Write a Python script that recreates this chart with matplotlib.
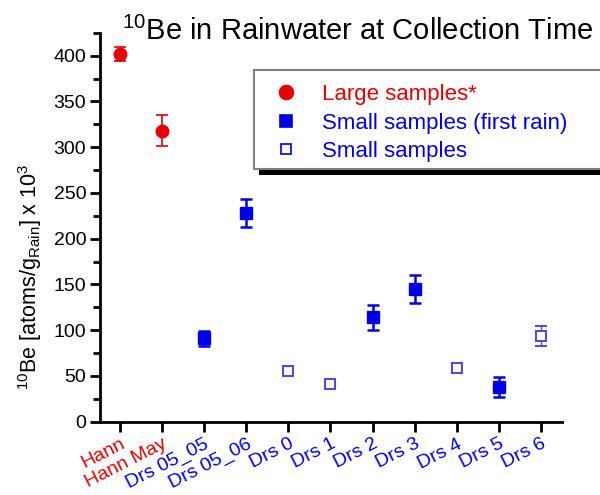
import matplotlib
matplotlib.use("Agg")
import matplotlib.pyplot as plt
from matplotlib.patches import Rectangle
from matplotlib.lines import Line2D
from matplotlib.ticker import MultipleLocator

plt.rcParams['font.family'] = ['Liberation Sans', 'DejaVu Sans']
plt.rcParams['mathtext.fontset'] = 'custom'
plt.rcParams['mathtext.rm'] = 'Liberation Sans'
plt.rcParams['mathtext.it'] = 'Liberation Sans'
plt.rcParams['mathtext.default'] = 'regular'

categories = ["Hann", "Hann May", "Drs 05_05", "Drs 05_06", "Drs 0", "Drs 1",
              "Drs 2", "Drs 3", "Drs 4", "Drs 5", "Drs 6"]
label_colors = ["red", "red"] + ["blue"] * 9

large_idx = [1, 2]
large_vals = [402, 318]
large_err = [8, 17]

first_idx = [3, 4, 7, 8, 10]
first_vals = [91, 228, 114, 145, 38]
first_err = [8, 15.5, 14, 15, 11]

small_idx = [5, 6, 9, 11]
small_vals = [55, 41, 59, 94]
small_err = [0, 0, 0, 11]

RED = '#e60000'
BLUE = '#0000e6'
LBLUE = '#5050cc'

fig = plt.figure(figsize=(6.0, 4.95), dpi=100)
ax = fig.add_axes([0.1667, 0.148, 0.77, 0.7856])

ax.errorbar(large_idx, large_vals, yerr=large_err, fmt='o', color=RED, ms=9,
            capsize=4, elinewidth=1.2, capthick=1.2, zorder=3)
ax.errorbar(first_idx, first_vals, yerr=first_err, fmt='s', color=BLUE, ms=8,
            capsize=4, elinewidth=1.8, capthick=1.8, zorder=3)
ax.errorbar(small_idx, small_vals, yerr=small_err, fmt='s', color=LBLUE, ms=7.5,
            mfc='white', mec=LBLUE, mew=1.5, capsize=4, elinewidth=1.0,
            capthick=1.0, zorder=3)

ax.set_xlim(0.525, 11.5)
ax.set_ylim(0, 425)
ax.set_xticks(range(1, len(categories) + 1))
ax.set_xticklabels(categories, rotation=27, ha='right', va='top',
                   rotation_mode='anchor', fontsize=14)
for t, c in zip(ax.get_xticklabels(), label_colors):
    t.set_color(RED if c == 'red' else BLUE)
ax.yaxis.set_major_locator(MultipleLocator(50))
ax.yaxis.set_minor_locator(MultipleLocator(25))
ax.tick_params(axis='y', which='major', length=7, width=2, labelsize=14,
               direction='out', pad=3)
ax.tick_params(axis='y', which='minor', length=5, width=2, direction='out')
ax.tick_params(axis='x', which='major', length=7, width=2, direction='out', pad=3)
for s in ['top', 'right']:
    ax.spines[s].set_visible(False)
for s in ['left', 'bottom']:
    ax.spines[s].set_linewidth(2)

fig.text(30 / 600, 1 - 277 / 495, '$^{10}$Be [atoms/g$_{Rain}$] x 10$^{3}$',
         fontsize=15.5, rotation=90, ha='center', va='center')

fig.text(122 / 600, 1 - 40 / 495, '$^{10}$Be in Rainwater at Collection Time',
         fontsize=21, va='baseline', ha='left')

# legend box (extends past right edge as in reference)
W, H = 600, 495
def fx(x): return x / W
def fy(y): return 1 - y / H
fig.patches.append(Rectangle((fx(259), fy(175)), fx(700 - 259), fy(169) - fy(175),
                             transform=fig.transFigure, facecolor='black',
                             edgecolor='none', zorder=5))
fig.patches.append(Rectangle((fx(254), fy(169)), fx(700 - 254), fy(70) - fy(169),
                             transform=fig.transFigure, facecolor='white',
                             edgecolor='#808080', lw=1.5, zorder=6))
entries = [
    ('o', RED, RED, 10, 'Large samples*', RED, 92),
    ('s', BLUE, BLUE, 8.5, 'Small samples (first rain)', BLUE, 121),
    ('s', 'white', BLUE, 7, 'Small samples', BLUE, 149),
]
for m, fc, ec, ms, txt, tc, y in entries:
    fig.add_artist(Line2D([fx(286)], [fy(y)], marker=m, mfc=fc, mec=ec, ms=ms,
                          mew=1.2, transform=fig.transFigure, zorder=7))
    fig.text(fx(322), fy(y), txt, color=tc, fontsize=16, va='center_baseline',
             ha='left', zorder=7)

fig.savefig('out.png', dpi=100)
